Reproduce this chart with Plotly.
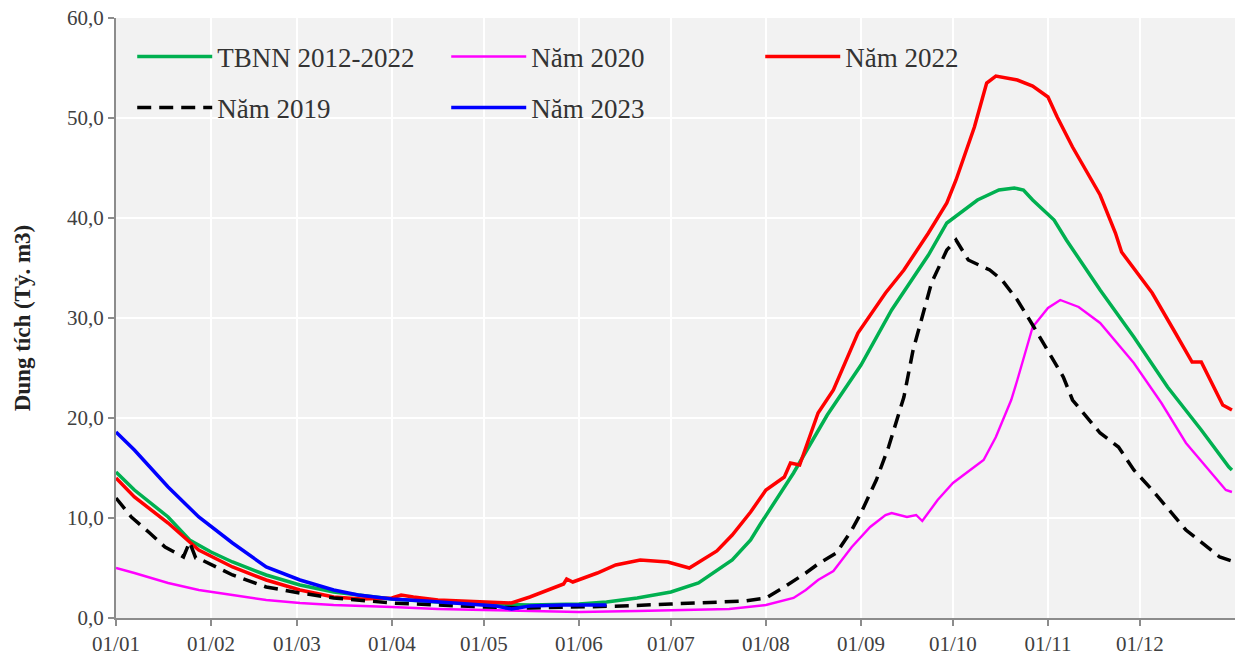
import pandas as pd
import plotly.graph_objects as go

# ---- data (day offset from 01/01, value in billion m3) ----
tick_labels = ["01/01", "01/02", "01/03", "01/04", "01/05", "01/06",
               "01/07", "01/08", "01/09", "01/10", "01/11", "01/12"]
tick_days = [0, 31, 59, 90, 120, 151, 181, 212, 243, 273, 304, 334]

tbnn_day = [0, 6, 17, 24, 31, 38, 49, 60, 71, 90, 105, 120, 135, 151, 160, 170, 181, 190,
            201, 207, 210, 221, 232, 243, 253, 265, 271, 281, 288, 293, 296, 299, 306, 310,
            321, 332, 343, 354, 363, 364]
tbnn_val = [14.6, 12.8, 10.1, 7.8, 6.6, 5.6, 4.3, 3.3, 2.6, 1.9, 1.6, 1.4, 1.3, 1.4, 1.6, 2.0, 2.6, 3.5,
            5.8, 7.8, 9.3, 14.5, 20.3, 25.3, 30.8, 36.3, 39.5, 41.8, 42.8, 43.0, 42.8, 41.8, 39.8, 37.8,
            32.8, 28.1, 23.1, 18.8, 15.1, 14.8]

y2020_day = [0, 6, 17, 27, 38, 49, 60, 71, 90, 105, 120, 135, 151, 170, 190, 200, 212, 221, 225,
             229, 234, 240, 246, 251, 253, 258, 261, 263, 268, 273, 283, 287, 292, 294, 299, 304,
             308, 314, 321, 332, 341, 349, 362, 364]
y2020_val = [5.0, 4.5, 3.5, 2.8, 2.3, 1.8, 1.5, 1.3, 1.1, 0.9, 0.8, 0.7, 0.6, 0.7, 0.8, 0.9, 1.3, 2.0, 2.8,
             3.8, 4.7, 7.1, 9.1, 10.3, 10.5, 10.1, 10.3, 9.7, 11.8, 13.5, 15.8, 18.1, 21.8, 23.8, 29.1, 31.0,
             31.8, 31.1, 29.5, 25.5, 21.5, 17.5, 12.8, 12.6]

y2022_day = [0, 6, 17, 27, 38, 49, 60, 71, 80, 90, 93, 97, 105, 115, 124, 129, 135, 146, 147, 149,
             157, 163, 171, 175, 180, 187, 196, 201, 207, 212, 218, 220, 223, 229, 234, 242, 251,
             257, 265, 271, 274, 280, 284, 287, 294, 299, 304, 307, 312, 321, 326, 328, 338, 345,
             351, 354, 361, 364]
y2022_val = [14.0, 12.1, 9.5, 6.8, 5.1, 3.8, 2.8, 2.1, 1.9, 2.0, 2.3, 2.1, 1.8, 1.7, 1.6, 1.5, 2.1, 3.4, 3.9, 3.6,
             4.5, 5.3, 5.8, 5.7, 5.6, 5.0, 6.7, 8.3, 10.6, 12.8, 14.1, 15.5, 15.3, 20.5, 22.8, 28.5, 32.5,
             34.8, 38.5, 41.5, 43.8, 49.1, 53.5, 54.2, 53.8, 53.2, 52.1, 50.1, 47.1, 42.3, 38.5, 36.6, 32.5, 28.8,
             25.6, 25.6, 21.3, 20.8]

y2019_day = [0, 5, 11, 16, 22, 24, 26, 28, 38, 49, 60, 71, 90, 105, 120, 135, 151, 165, 181, 196,
             205, 212, 218, 225, 229, 235, 240, 243, 248, 252, 257, 260, 266, 271, 274, 278, 285,
             289, 294, 299, 309, 312, 321, 327, 332, 338, 349, 360, 364]
y2019_val = [12.0, 10.1, 8.5, 7.1, 6.1, 7.6, 6.0, 5.8, 4.3, 3.1, 2.5, 2.0, 1.5, 1.3, 1.1, 1.0, 1.1, 1.2, 1.4, 1.6,
             1.7, 2.0, 3.1, 4.5, 5.4, 6.5, 8.8, 10.5, 13.8, 17.1, 22.1, 26.8, 33.5, 36.8, 37.8, 35.8, 34.8,
             33.8, 31.8, 29.3, 24.1, 21.8, 18.5, 17.1, 14.8, 12.8, 8.8, 6.1, 5.7]

y2023_day = [0, 6, 17, 27, 38, 49, 60, 71, 79, 90, 101, 112, 124, 129, 135, 146, 157, 160]
y2023_val = [18.6, 16.8, 13.1, 10.1, 7.5, 5.1, 3.8, 2.8, 2.3, 1.9, 1.7, 1.5, 1.2, 0.9, 1.2, 1.3, 1.3, 1.3]

base = pd.Timestamp("2023-01-01")


def to_dates(days):
    return [base + pd.Timedelta(days=d) for d in days]


FONT = "Liberation Serif, Times New Roman, serif"

fig = go.Figure()
series = [
    ("TBNN 2012-2022", tbnn_day, tbnn_val, "#00B050", 3.5, "solid", "legend"),
    ("Năm 2020", y2020_day, y2020_val, "#FF00FF", 2.4, "solid", "legend"),
    ("Năm 2022", y2022_day, y2022_val, "#FF0000", 3.5, "solid", "legend"),
    ("Năm 2019", y2019_day, y2019_val, "#000000", 3.5, "14px,8px", "legend2"),
    ("Năm 2023", y2023_day, y2023_val, "#0000FF", 3.5, "solid", "legend2"),
]
for name, d, v, col, w, dash, lg in series:
    fig.add_trace(go.Scatter(
        x=to_dates(d), y=v, name=name, mode="lines",
        line=dict(color=col, width=w, dash=dash),
        legend=lg,
    ))

legend_common = dict(
    orientation="h", xanchor="left", yanchor="middle",
    entrywidth=224, entrywidthmode="pixels",
    bgcolor="rgba(0,0,0,0)", borderwidth=0,
    font=dict(family=FONT, size=27, color="#333333"),
    itemwidth=75, traceorder="normal",
)

fig.update_layout(
    width=1240, height=668,
    margin=dict(l=116, r=5, t=18, b=50, autoexpand=False),
    paper_bgcolor="white",
    plot_bgcolor="#F2F2F2",
    separators=",.",
    showlegend=True,
    legend=dict(x=0.0145, y=0.935, **legend_common),
    legend2=dict(x=0.0145, y=0.85, **legend_common),
    font=dict(family=FONT, color="#404040"),
)

fig.update_xaxes(
    range=[base, base + pd.Timedelta(days=365)],
    tickvals=to_dates(tick_days), ticktext=tick_labels,
    showgrid=True, gridcolor="white", gridwidth=1.5,
    showline=True, linecolor="#8C8C8C", linewidth=2,
    ticks="outside", ticklen=6, tickcolor="#8C8C8C", tickwidth=1.5,
    tickfont=dict(family=FONT, size=21, color="#404040"),
    zeroline=False, automargin=False, ticklabeloverflow="allow",
)
fig.update_yaxes(
    range=[0, 60], dtick=10, tick0=0, tickformat=".1f",
    showgrid=True, gridcolor="white", gridwidth=1.5,
    showline=True, linecolor="#8C8C8C", linewidth=2,
    ticks="outside", ticklen=6, tickcolor="#8C8C8C", tickwidth=1.5,
    tickfont=dict(family=FONT, size=21, color="#404040"),
    zeroline=False, automargin=False, ticklabeloverflow="allow",
    title=dict(text="<b>Dung tích (Tỷ. m3)</b>", standoff=30,
               font=dict(family=FONT, size=23, color="#222222")),
)

fig.write_html("out.html", config={"displayModeBar": False},
               post_script="document.body.style.margin='0';")
